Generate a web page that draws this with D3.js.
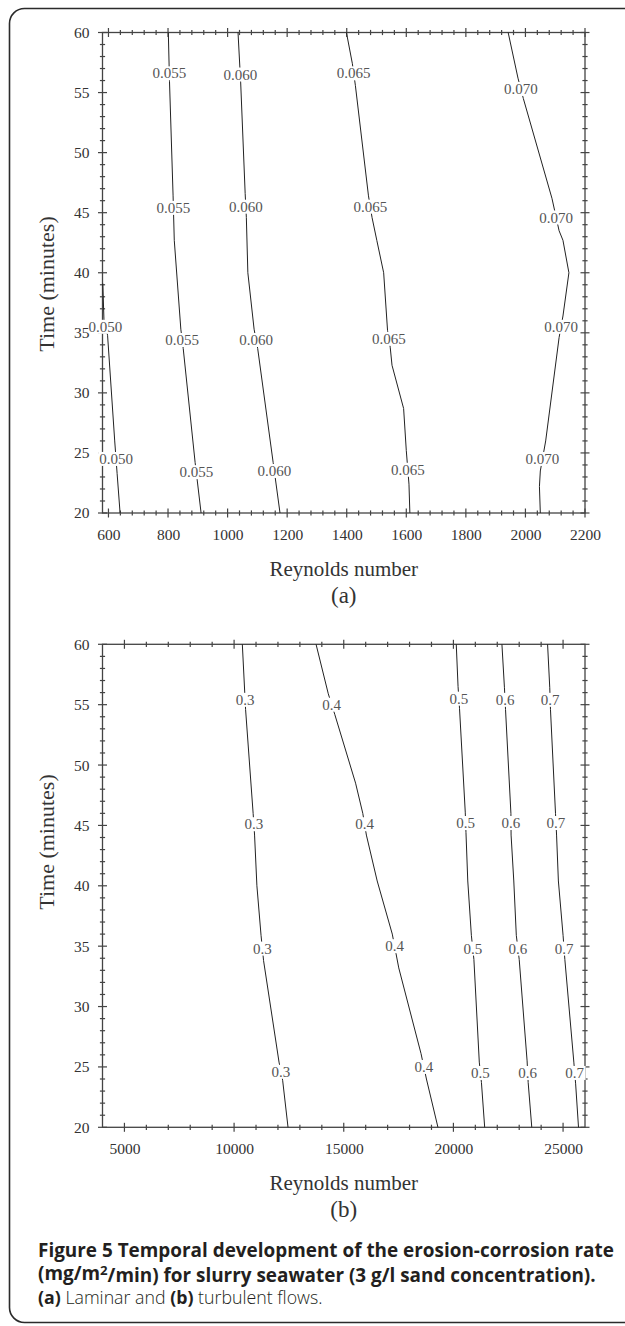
<!DOCTYPE html>
<html>
<head>
<meta charset="utf-8">
<script src="https://cdn.jsdelivr.net/npm/d3@7"></script>
<style>
  body { margin: 0; background: #fff; }
  svg { display: block; }
</style>
</head>
<body>
<script>
// values
var timeTicks = [20, 25, 30, 35, 40, 45, 50, 55, 60];
var reTicksA = [600, 800, 1000, 1200, 1400, 1600, 1800, 2000, 2200];
var reTicksB = [5000, 10000, 15000, 20000, 25000];

// (a) laminar contours, points are [Reynolds number, time in minutes]
var lam050 = [[581, 39.1], [585, 36.0], [597, 34.8], [621, 26.0], [629, 23.3], [639, 20]];
var lam055 = [[801, 60], [805, 55.9], [817, 46.4], [821, 42.7], [843, 35.3], [851, 33.7], [891, 24.2], [911, 20]];
var lam060 = [[1035, 60], [1044, 55.8], [1059, 46.6], [1063, 44.6], [1068, 40], [1089, 35.3], [1101, 33.7], [1153, 24.2], [1176, 20]];
var lam065 = [[1399, 60], [1419, 57.4], [1429, 55.6], [1473, 46.4], [1485, 44.6], [1501, 42.7], [1524, 40], [1537, 35.2], [1546, 33.8], [1552, 32.3], [1591, 28.7], [1600, 25.2], [1609, 22.4], [1612, 20]];
var lam070 = [[1942, 60], [1975, 56.2], [1993, 54.5], [2089, 46.2], [2113, 43.5], [2126, 42.7], [2146, 40], [2126, 36.4], [2113, 34.6], [2068, 26], [2050, 23.5], [2047, 22.2], [2050, 20]];
var lamLevels = ["0.050", "0.055", "0.060", "0.065", "0.070"];
var lamLines = [lam050, lam055, lam060, lam065, lam070];
var lamLabelTimes = [[35.5, 24.5], [56.6, 45.4, 34.4, 23.4], [56.5, 45.5, 34.4, 23.5], [56.6, 45.5, 34.5, 23.6], [55.3, 44.6, 35.5, 24.5]];

// (b) turbulent contours
var tur03 = [[10376, 60], [10524, 54.6], [10868, 46], [10934, 44.2], [11040, 40], [11229, 35.9], [11344, 33.8], [12049, 25.4], [12213, 23.9], [12459, 20]];
var tur04 = [[13737, 60], [14295, 55.9], [14590, 54.2], [15540, 48.5], [15868, 46], [16032, 44.2], [16525, 40.4], [17213, 36], [17508, 33.2], [18524, 26.1], [18770, 24], [19295, 20]];
var tur05 = [[20130, 60], [20212, 56.5], [20278, 54.7], [20540, 46.1], [20573, 44.4], [20655, 40.4], [20819, 35.9], [20934, 33.9], [21180, 25.4], [21278, 23.7], [21426, 20]];
var tur06 = [[22212, 60], [22327, 56.4], [22376, 54.6], [22622, 46], [22630, 44.2], [22753, 40.4], [22868, 35.9], [23000, 33.9], [23360, 25.5], [23409, 23.7], [23573, 20]];
var tur07 = [[24294, 60], [24393, 56.4], [24426, 54.6], [24655, 46], [24704, 44.2], [24786, 40.4], [25000, 35.9], [25081, 33.9], [25491, 25.4], [25573, 23.6], [25704, 20]];
var turLevels = ["0.3", "0.4", "0.5", "0.6", "0.7"];
var turLines = [tur03, tur04, tur05, tur06, tur07];
var turLabelTimes = [[55.4, 45.1, 34.8, 24.6], [55.0, 45.1, 35.0, 25.0], [55.5, 45.2, 34.8, 24.5], [55.4, 45.2, 34.8, 24.5], [55.4, 45.2, 34.8, 24.5]];

var serif = '"Liberation Serif", "Times New Roman", serif';
var sans = '"Open Sans", "Noto Sans", sans-serif';
var ink = "#333";

var svg = d3.select("body").append("svg")
    .attr("width", 625)
    .attr("height", 1326);

// rounded figure border (runs off the right edge)
svg.append("rect")
    .attr("x", 9.5).attr("y", 8.5)
    .attr("width", 700).attr("height", 1314)
    .attr("rx", 15)
    .attr("fill", "none")
    .attr("stroke", "#2b2b2b")
    .attr("stroke-width", 1.6);

// time on the contour -> Reynolds number, linear between read points
function reAt(pts, t) {
  for (var i = 0; i < pts.length - 1; i++) {
    var a = pts[i], b = pts[i + 1];
    if ((t <= a[1] && t >= b[1]) || (t >= a[1] && t <= b[1])) {
      var f = (t - a[1]) / (b[1] - a[1]);
      return a[0] + f * (b[0] - a[0]);
    }
  }
  return pts[pts.length - 1][0];
}

function drawPanel(p) {
  var left = 102.5, right = 585;
  var x = d3.scaleLinear().domain(p.xDomain).range([left, right]);
  var y = d3.scaleLinear().domain([20, 60]).range([p.bottom, p.top]);
  var g = svg.append("g");

  // frame
  g.append("rect")
      .attr("x", left).attr("y", p.top)
      .attr("width", right - left).attr("height", p.bottom - p.top)
      .attr("fill", "none")
      .attr("stroke", "#444")
      .attr("stroke-width", 1.3);

  // ticks cross the frame on all four sides
  var d0 = p.xDomain[0], d1 = p.xDomain[1];
  var xMinor = d3.range(Math.ceil(d0 / p.xStep) * p.xStep, d1, p.xStep)
      .filter(function(v) { return v > d0 && v < d1 && p.xMajor.indexOf(v) < 0; });
  var yMinor = d3.range(21, 60, 1).filter(function(v) { return v % 5 != 0; });
  var ticks = [];
  p.xMajor.forEach(function(v) { ticks.push({v: v, s: 4.5, ax: "x"}); });
  xMinor.forEach(function(v) { ticks.push({v: v, s: 2.6, ax: "x"}); });
  timeTicks.forEach(function(v) { ticks.push({v: v, s: 4.5, ax: "y"}); });
  yMinor.forEach(function(v) { ticks.push({v: v, s: 2.6, ax: "y"}); });

  [p.top, p.bottom].forEach(function(yy) {
    g.selectAll(null)
        .data(ticks.filter(function(d) { return d.ax == "x"; }))
      .enter().append("line")
        .attr("x1", function(d) { return x(d.v); })
        .attr("x2", function(d) { return x(d.v); })
        .attr("y1", function(d) { return yy - d.s; })
        .attr("y2", function(d) { return yy + d.s; })
        .attr("stroke", "#444")
        .attr("stroke-width", 1.2);
  });
  [left, right].forEach(function(xx) {
    g.selectAll(null)
        .data(ticks.filter(function(d) { return d.ax == "y"; }))
      .enter().append("line")
        .attr("y1", function(d) { return y(d.v); })
        .attr("y2", function(d) { return y(d.v); })
        .attr("x1", function(d) { return xx - d.s; })
        .attr("x2", function(d) { return xx + d.s; })
        .attr("stroke", "#444")
        .attr("stroke-width", 1.2);
  });

  // contour lines
  var line = d3.line()
      .x(function(d) { return x(d[0]); })
      .y(function(d) { return y(d[1]); });

  g.selectAll(".contour")
      .data(p.lines)
    .enter().append("path")
      .attr("class", "contour")
      .attr("d", line)
      .attr("fill", "none")
      .attr("stroke", "#222")
      .attr("stroke-width", 1);

  // inline contour labels on a white patch
  p.lines.forEach(function(pts, i) {
    p.labelTimes[i].forEach(function(t) {
      var lab = g.append("g")
          .attr("transform", "translate(" + x(reAt(pts, t)) + "," + y(t) + ")");
      var txt = lab.append("text")
          .attr("text-anchor", "middle")
          .attr("dy", "0.34em")
          .style("font-family", serif)
          .style("font-size", "15px")
          .attr("fill", "#555")
          .text(p.levels[i]);
      var bb = txt.node().getBBox();
      lab.insert("rect", "text")
          .attr("x", bb.x - 1).attr("y", -7)
          .attr("width", bb.width + 2).attr("height", 14)
          .attr("fill", "#fff");
    });
  });

  // tick labels
  g.append("g")
      .attr("transform", "translate(0," + p.bottom + ")")
      .call(d3.axisBottom(x).tickValues(p.xMajor).tickSize(0).tickPadding(16).tickFormat(d3.format("d")))
      .call(function(a) { a.select(".domain").remove(); })
      .attr("font-family", serif)
      .attr("font-size", 15.5)
      .selectAll("text").attr("fill", ink);

  g.append("g")
      .attr("transform", "translate(" + left + ",0)")
      .call(d3.axisLeft(y).tickValues(timeTicks).tickSize(0).tickPadding(13))
      .call(function(a) { a.select(".domain").remove(); })
      .attr("font-family", serif)
      .attr("font-size", 15.5)
      .selectAll("text").attr("fill", ink);

  // axis titles
  g.append("text")
      .attr("x", (left + right) / 2)
      .attr("y", p.bottom + 63)
      .attr("text-anchor", "middle")
      .style("font-family", serif)
      .style("font-size", "21px")
      .attr("fill", ink)
      .text("Reynolds number");

  g.append("text")
      .attr("x", (left + right) / 2)
      .attr("y", p.bottom + 90)
      .attr("text-anchor", "middle")
      .style("font-family", serif)
      .style("font-size", "23px")
      .attr("fill", ink)
      .text(p.letter);

  g.append("text")
      .attr("transform", "translate(54," + p.titleY + ") rotate(-90)")
      .attr("text-anchor", "middle")
      .style("font-family", serif)
      .style("font-size", "22px")
      .attr("fill", ink)
      .text("Time (minutes)");
}

drawPanel({
  top: 32.5, bottom: 513, titleY: 284,
  xDomain: [580, 2200], xMajor: reTicksA, xStep: 40,
  lines: lamLines, levels: lamLevels, labelTimes: lamLabelTimes,
  letter: "(a)"
});

drawPanel({
  top: 644.3, bottom: 1127.3, titleY: 842,
  xDomain: [4000, 26000], xMajor: reTicksB, xStep: 1000,
  lines: turLines, levels: turLevels, labelTimes: turLabelTimes,
  letter: "(b)"
});

// caption
var cap = svg.append("g")
    .style("font-family", sans)
    .attr("fill", "#231f20");

var l1 = cap.append("text").attr("x", 38).attr("y", 1257).style("font-weight", 700);
l1.append("tspan").text("Figure 5");
l1.append("tspan").text(" Temporal development of the erosion-corrosion rate");

var l2 = cap.append("text").attr("x", 38).attr("y", 1280).style("font-weight", 700);
l2.append("tspan").text("(mg/m");
l2.append("tspan").attr("class", "sup").attr("dy", "-0.4em").text("2");
l2.append("tspan").attr("dy", "0.4em").text("/min) for slurry seawater (3 g/l sand concentration).");

var l3 = cap.append("text").attr("x", 38).attr("y", 1304);
l3.append("tspan").style("font-weight", 700).text("(a)");
l3.append("tspan").style("font-weight", 300).text(" Laminar and ");
l3.append("tspan").style("font-weight", 700).text("(b)");
l3.append("tspan").style("font-weight", 300).text(" turbulent flows.");

// fit the first caption line to its width in the figure
cap.style("font-size", "17px");
var w1 = l1.node().getComputedTextLength();
var fs = 17 * 576 / w1;
cap.style("font-size", fs + "px");
cap.selectAll(".sup").style("font-size", (fs * 0.7) + "px");
l3.style("font-size", (fs * 0.94) + "px");
</script>
</body>
</html>
